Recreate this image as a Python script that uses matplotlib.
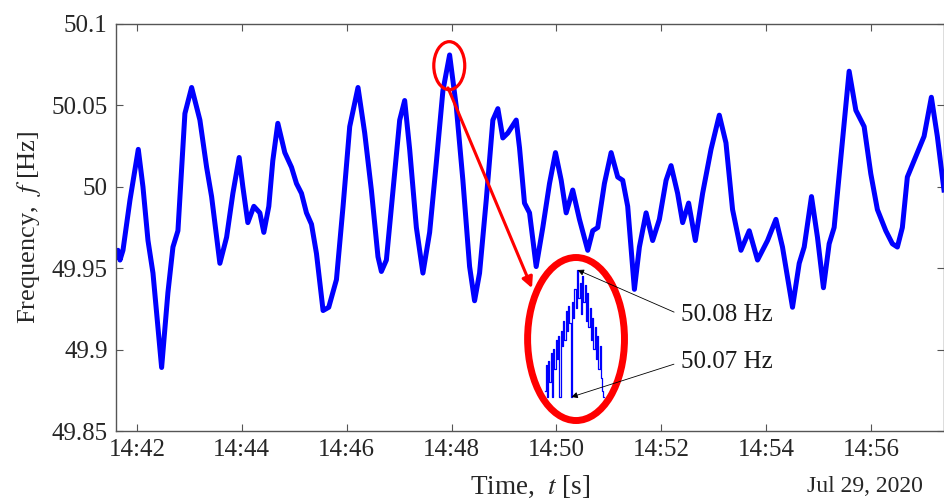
import numpy as np
import matplotlib
matplotlib.use('Agg')
import matplotlib.pyplot as plt
import matplotlib.dates as mdates
from matplotlib.patches import Ellipse
from matplotlib.ticker import FixedLocator, FuncFormatter

plt.rcParams['font.family'] = ['Liberation Serif', 'DejaVu Serif']
plt.rcParams['mathtext.fontset'] = 'stix'

# minutes after 14:42 on Jul 29, 2020, and grid frequency
minutes = [-0.387, -0.362, -0.324, -0.267, -0.133, 0.025, 0.114, 0.210, 0.305, 0.470,
           0.590, 0.686, 0.781, 0.914, 1.042, 1.200, 1.328, 1.423, 1.581, 1.709,
           1.829, 1.949, 2.019, 2.114, 2.229, 2.343, 2.419, 2.514, 2.590, 2.686,
           2.819, 2.947, 3.042, 3.137, 3.232, 3.328, 3.423, 3.549, 3.657, 3.804,
           3.930, 4.057, 4.215, 4.343, 4.470, 4.596, 4.661, 4.756, 4.882, 5.010,
           5.105, 5.200, 5.328, 5.453, 5.581, 5.709, 5.834, 5.962, 6.090, 6.215,
           6.343, 6.438, 6.533, 6.661, 6.787, 6.882, 6.977, 7.072, 7.232, 7.295,
           7.390, 7.486, 7.613, 7.739, 7.867, 7.981, 8.090, 8.185, 8.310, 8.438,
           8.596, 8.691, 8.787, 8.914, 9.042, 9.168, 9.263, 9.358, 9.486, 9.581,
           9.709, 9.834, 9.962, 10.090, 10.185, 10.310, 10.406, 10.520, 10.648, 10.787,
           10.947, 11.105, 11.232, 11.358, 11.518, 11.676, 11.834, 12.025, 12.185, 12.310,
           12.501, 12.629, 12.724, 12.863, 12.977, 13.091, 13.200, 13.295, 13.423, 13.581,
           13.709, 13.867, 13.994, 14.120, 14.280, 14.406, 14.501, 14.596, 14.691, 14.882,
           15.010, 15.149, 15.263, 15.390]
freq = [49.957, 49.961, 49.955, 49.961, 49.992, 50.023, 50.000, 49.967, 49.947, 49.889,
        49.935, 49.963, 49.973, 50.045, 50.061, 50.041, 50.012, 49.994, 49.953, 49.969,
        49.996, 50.018, 50.000, 49.978, 49.988, 49.984, 49.972, 49.988, 50.016, 50.039,
        50.021, 50.012, 50.002, 49.996, 49.984, 49.977, 49.959, 49.924, 49.926, 49.943,
        49.988, 50.037, 50.061, 50.033, 49.998, 49.957, 49.948, 49.955, 49.998, 50.041,
        50.053, 50.023, 49.975, 49.947, 49.972, 50.015, 50.059, 50.081, 50.049, 50.004,
        49.951, 49.930, 49.947, 49.992, 50.041, 50.048, 50.030, 50.033, 50.041, 50.024,
        49.990, 49.984, 49.951, 49.975, 50.002, 50.021, 50.004, 49.984, 49.998, 49.980,
        49.961, 49.973, 49.975, 50.002, 50.021, 50.006, 50.004, 49.988, 49.937, 49.963,
        49.984, 49.967, 49.980, 50.004, 50.013, 49.996, 49.978, 49.990, 49.967, 49.996,
        50.023, 50.044, 50.027, 49.986, 49.961, 49.973, 49.955, 49.967, 49.980, 49.963,
        49.926, 49.953, 49.963, 49.994, 49.969, 49.938, 49.965, 49.975, 50.018, 50.071,
        50.047, 50.037, 50.008, 49.986, 49.973, 49.965, 49.963, 49.975, 50.006, 50.021,
        50.031, 50.055, 50.031, 49.998]

# zoomed view of the 50.08 Hz peak
peak_zoom = [50.0705, 50.0725, 50.0700, 50.0728, 50.0712, 50.0735, 50.0700, 50.0738, 50.0722, 50.0745,
             50.0730, 50.0748, 50.0700, 50.0752, 50.0740, 50.0760, 50.0745, 50.0768, 50.0752, 50.0772,
             50.0758, 50.0700, 50.0775, 50.0762, 50.0785, 50.0770, 50.0800, 50.0778, 50.0790, 50.0765,
             50.0795, 50.0775, 50.0788, 50.0760, 50.0782, 50.0755, 50.0770, 50.0745, 50.0762, 50.0738,
             50.0755, 50.0730, 50.0748, 50.0722, 50.0740, 50.0715, 50.0705, 50.0700]

yticks = [49.85, 49.9, 49.95, 50.0, 50.05, 50.1]
xtick_minutes = [0, 2, 4, 6, 8, 10, 12, 14]

t0 = np.datetime64('2020-07-29T14:42:00')
to_time = lambda m: t0 + (np.array(m) * 60000).astype('timedelta64[ms]')
t = to_time(minutes)

fig = plt.figure(figsize=(9.45, 5.01), dpi=100)
ax = fig.add_axes([116/945, 1 - 431/501, 828/945, 407/501])

ax.plot(t, freq, color='#0000ff', lw=3.6, solid_joinstyle='round')

ax.set_ylim(49.85, 50.1)
ax.set_xlim(to_time([-0.4, 15.39]))
ax.yaxis.set_major_locator(FixedLocator(yticks))
ax.yaxis.set_major_formatter(FuncFormatter(lambda v, p: '%g' % round(v, 3)))
ax.set_xticks(to_time(xtick_minutes))
ax.xaxis.set_major_formatter(mdates.DateFormatter('%H:%M'))

for s in ax.spines.values():
    s.set_color('#555555')
    s.set_linewidth(1.0)
ax.tick_params(direction='in', top=True, right=True, length=5, width=0.8,
               color='#555555', labelsize=18, labelcolor='#262626', pad=6)

ax.set_ylabel('Frequency,  $f$ [Hz]', fontsize=19, color='#262626', labelpad=6)
fig.text(530/945, 1 - 487/501, 'Time,  $t$ [s]', fontsize=19.5, color='#262626',
         ha='center', va='center')
fig.text(923/945, 1 - 487/501, 'Jul 29, 2020', fontsize=17, color='#262626',
         ha='right', va='center')

# red markers
ax.add_patch(Ellipse((0.4025, 0.8976), 0.0374, 0.118, transform=ax.transAxes,
                     fill=False, ec='#ff0000', lw=2.3, zorder=5))
ax.add_patch(Ellipse((0.5556, 0.226), 0.117, 0.4005, transform=ax.transAxes,
                     fill=False, ec='#ff0000', lw=5, zorder=5))
ax.annotate('', xy=(0.5024, 0.351), xytext=(0.401, 0.843), xycoords='axes fraction',
            arrowprops=dict(arrowstyle='-|>', color='#ff0000', lw=2.2,
                            mutation_scale=16, shrinkA=0, shrinkB=0), zorder=5)

# zoomed inset
axin = ax.inset_axes([(545 - 116)/828, (431 - 397)/407, 59/828, 127/407])
axin.plot(np.arange(len(peak_zoom)), peak_zoom, color='#0000ff', lw=0.9,
          drawstyle='steps-mid', clip_on=False)
axin.set_xlim(0, len(peak_zoom) - 1)
axin.set_ylim(50.07, 50.08)
axin.axis('off')

ipk = int(np.argmax(peak_zoom))
ilo = 21
axin.annotate('50.08 Hz', xy=(ipk, max(peak_zoom)), xytext=(0.682, 0.285),
              textcoords=ax.transAxes, fontsize=18, color='#1a1a1a', ha='left', va='center',
              annotation_clip=False,
              arrowprops=dict(arrowstyle='-|>', color='k', lw=0.6, mutation_scale=9,
                              shrinkA=3, shrinkB=0, relpos=(0, 0.5)))
axin.annotate('50.07 Hz', xy=(ilo, peak_zoom[ilo]), xytext=(0.682, 0.1695),
              textcoords=ax.transAxes, fontsize=18, color='#1a1a1a', ha='left', va='center',
              annotation_clip=False,
              arrowprops=dict(arrowstyle='-|>', color='k', lw=0.6, mutation_scale=9,
                              shrinkA=3, shrinkB=0, relpos=(0, 0.5)))

fig.savefig('out.png', dpi=100)
